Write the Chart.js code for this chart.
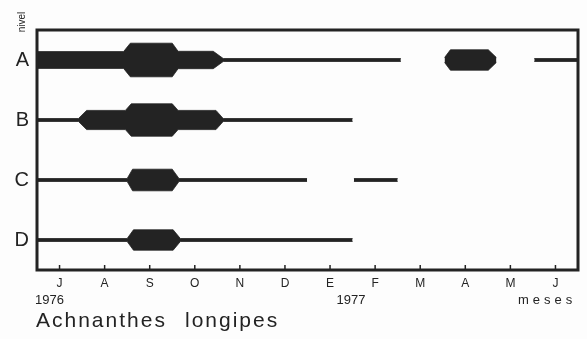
<!DOCTYPE html>
<html>
<head>
<meta charset="utf-8">
<script src="https://cdn.jsdelivr.net/npm/chart.js@4/dist/chart.umd.min.js"></script>
<style>
  html, body { margin: 0; padding: 0; background: #fdfdfd; }
  #wrap { width: 587px; height: 339px; position: relative; }
</style>
</head>
<body>
<div id="wrap"><canvas id="kite"></canvas></div>
<script>
'use strict';

// ---------------------------------------------------------------------------
// data
// ---------------------------------------------------------------------------

// months Jul 1976 .. Jun 1977 (Spanish initials)
const monthLabels = ['J', 'A', 'S', 'O', 'N', 'D', 'E', 'F', 'M', 'A', 'M', 'J'];
const levelLabels = ['A', 'B', 'C', 'D'];
const levelRows   = [1, 2, 3, 4];

// kite segments per level: [month position, half width (row units)]
const levelA = [
    [[-0.5, 0.14], [1.42, 0.14], [1.57, 0.28], [2.50, 0.28], [2.63, 0.145], [3.41, 0.145], [3.63, 0.025], [7.57, 0.025]],
    [[8.54, 0.04], [8.67, 0.17], [9.51, 0.17], [9.69, 0.04]],
    [[10.53, 0.025], [11.5, 0.025]],
];
const levelB = [
    [[-0.5, 0.025], [0.42, 0.025], [0.60, 0.16], [1.46, 0.16], [1.59, 0.27], [2.50, 0.27], [2.63, 0.16], [3.47, 0.16], [3.63, 0.025], [6.50, 0.025]],
];
const levelC = [
    [[-0.5, 0.025], [1.50, 0.025], [1.62, 0.18], [2.50, 0.18], [2.65, 0.025], [5.49, 0.025]],
    [[6.53, 0.025], [7.50, 0.025]],
];
const levelD = [
    [[-0.5, 0.025], [1.50, 0.025], [1.64, 0.17], [2.52, 0.17], [2.68, 0.025], [6.50, 0.025]],
];
const levelSegments = [levelA, levelB, levelC, levelD];

// ---------------------------------------------------------------------------
// datasets
// ---------------------------------------------------------------------------

const INK = '#232323';

function kiteDatasets(segments, row) {
    const out = [];
    segments.forEach((seg) => {
        const base = { pointRadius: 0, borderWidth: 0.8, borderColor: INK, backgroundColor: INK, tension: 0 };
        out.push({ ...base, data: seg.map(([x, w]) => ({ x, y: row - w })), fill: false });
        out.push({ ...base, data: seg.map(([x, w]) => ({ x, y: row + w })), fill: '-1' });
    });
    return out;
}

const datasets = [];
levelSegments.forEach((segs, i) => datasets.push(...kiteDatasets(segs, levelRows[i])));

// ---------------------------------------------------------------------------
// plugins: background, frame, inward ticks, free text
// ---------------------------------------------------------------------------

const paperPlugin = {
    id: 'paper',
    beforeDraw(chart) {
        const { ctx } = chart;
        ctx.save();
        ctx.fillStyle = '#fdfdfd';
        ctx.fillRect(0, 0, chart.width, chart.height);
        ctx.restore();
    },
    afterDraw(chart) {
        const { ctx, chartArea: a, scales } = chart;
        ctx.save();
        // frame
        ctx.strokeStyle = INK;
        ctx.lineWidth = 3;
        ctx.strokeRect(a.left, a.top, a.right - a.left, a.bottom - a.top);
        // inward month ticks
        ctx.lineWidth = 1.5;
        scales.x.ticks.forEach((t) => {
            const px = scales.x.getPixelForValue(t.value);
            ctx.beginPath();
            ctx.moveTo(px, a.bottom);
            ctx.lineTo(px, a.bottom - 5);
            ctx.stroke();
        });

        ctx.fillStyle = INK;
        ctx.textBaseline = 'alphabetic';

        // years and unit
        ctx.font = '13px "Liberation Sans", Arial, sans-serif';
        ctx.textAlign = 'left';
        ctx.fillText('1976', 35, 304);
        ctx.textAlign = 'center';
        ctx.fillText('1977', 351, 304);
        ctx.textAlign = 'left';
        ctx.letterSpacing = '4px';
        ctx.fillText('meses', 518, 304);

        // species name
        ctx.font = '21px "Liberation Sans", Arial, sans-serif';
        ctx.letterSpacing = '2px';
        ctx.fillText('Achnanthes', 36, 327);
        ctx.fillText('longipes', 185, 327);
        ctx.letterSpacing = '0px';

        // "nivel" rotated
        ctx.font = '10px "Liberation Sans", Arial, sans-serif';
        ctx.translate(25, 22);
        ctx.rotate(-Math.PI / 2);
        ctx.textAlign = 'center';
        ctx.fillText('nivel', 0, 0);
        ctx.restore();
    },
};

// ---------------------------------------------------------------------------
// chart
// ---------------------------------------------------------------------------

new Chart(document.getElementById('kite'), {
    type: 'line',
    data: { datasets },
    plugins: [paperPlugin],
    options: {
        responsive: true,
        maintainAspectRatio: false,
        animation: false,
        layout: { padding: { top: 30, right: 9, left: 0, bottom: 0 } },
        plugins: { legend: { display: false }, tooltip: { enabled: false } },
        scales: {
            x: {
                type: 'linear',
                min: -0.5,
                max: 11.5,
                afterBuildTicks: (s) => { s.ticks = monthLabels.map((_, i) => ({ value: i })); },
                afterFit: (s) => { s.height = 69; },
                grid: { display: false, drawTicks: false },
                border: { display: false },
                ticks: {
                    padding: 6,
                    color: INK,
                    font: { family: '"Liberation Sans", Arial, sans-serif', size: 12 },
                    callback: (v) => monthLabels[v] ?? '',
                },
            },
            y: {
                type: 'linear',
                reverse: true,
                min: 0.5,
                max: 4.5,
                afterBuildTicks: (s) => { s.ticks = levelRows.map((v) => ({ value: v })); },
                afterFit: (s) => { s.width = 37; },
                grid: { display: false, drawTicks: false },
                border: { display: false },
                ticks: {
                    padding: 8,
                    color: INK,
                    font: { family: '"Liberation Sans", Arial, sans-serif', size: 20 },
                    callback: (v) => levelLabels[levelRows.indexOf(v)] ?? '',
                },
            },
        },
    },
});
</script>
</body>
</html>
